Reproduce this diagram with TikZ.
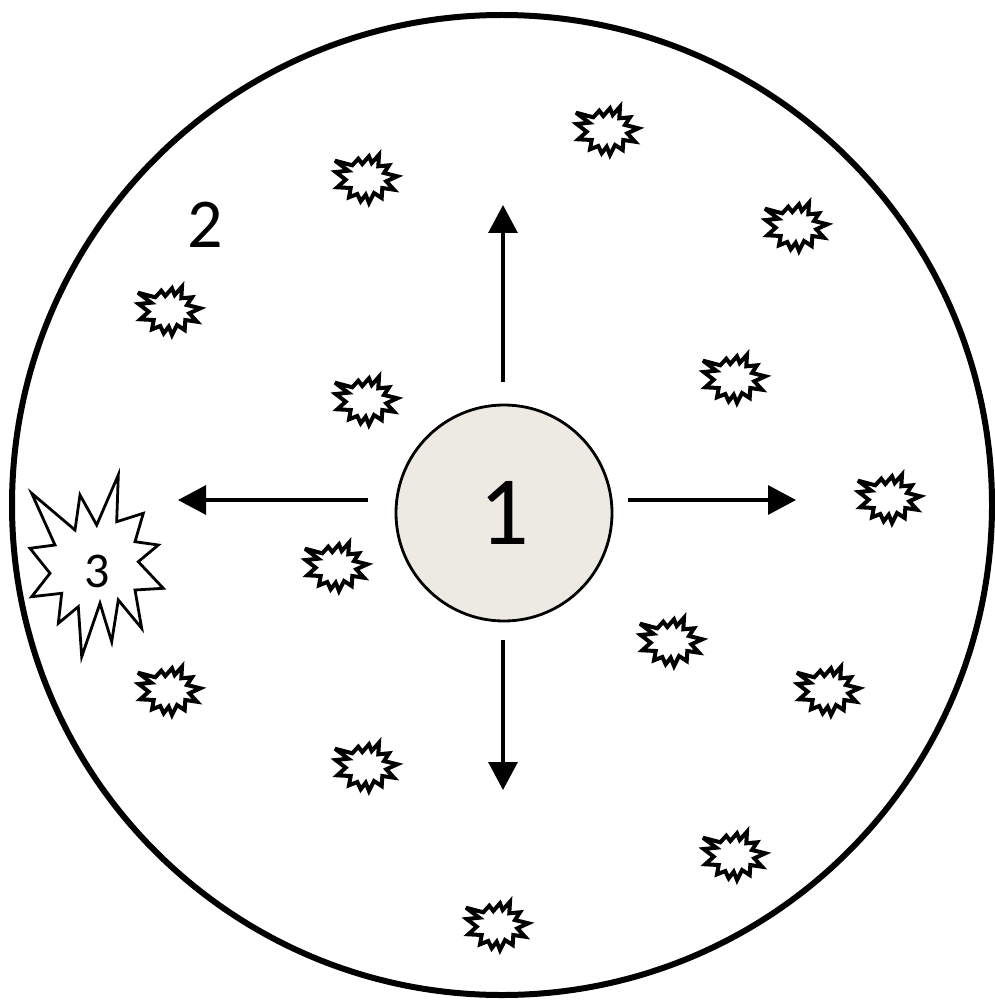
\documentclass[tikz,border=0pt]{standalone}
\usepackage{fontspec}
\setmainfont{Carlito}
\usetikzlibrary{arrows.meta}
\definecolor{corefill}{RGB}{236,234,226}
\tikzset{
  outerring/.style={draw=black, line width=6pt},
  core/.style={circle, draw=black, line width=2.8pt, fill=corefill, minimum size=216pt, inner sep=0pt, font=\fontsize{98}{98}\selectfont},
  ray/.style={line width=3.2pt, -{Triangle[length=28pt, width=29pt]}},
  burstline/.style={draw=black, fill=white, line width=4pt, line join=miter, miter limit=4},
  bigburst/.style={draw=black, fill=white, line width=2.8pt, line join=miter, miter limit=6},
  lbl/.style={inner sep=0pt},
  burst/.pic={
    \draw[burstline] (-30,-19.3) -- (-12.7,-14.7) -- (-6.7,-21.3) -- (-2.7,-16) -- (4,-23.7) -- (6.7,-17) -- (14,-25.3) -- (13.3,-13.7) -- (24,-14.7) -- (19,-7) -- (32.3,-3.7) -- (21.3,1.3) -- (29,9.7) -- (17.3,8) -- (16.7,18) -- (9,13) -- (4,23) -- (0.7,14.7) -- (-4.3,21.3) -- (-7.7,14) -- (-16,17.3) -- (-14.3,8) -- (-27.7,7.3) -- (-19.3,-0.3) -- (-29.3,-8) -- (-16.7,-9.3) -- cycle;
  }
}
\begin{document}
\begin{tikzpicture}[x=1pt, y=-1pt]
\useasboundingbox (0,0) rectangle (994,1000);
% outer region
\draw[outerring] (502,505) circle[radius=490];
% small bursts
\foreach \p in {(365,180),(606,132),(795,228),(168,312),(365,402),(733,380),(888,500),(335,568),(670,643),(168,692),(827,692),(365,768),(733,857),(496,927)}
  \pic at \p {burst};
% big burst 3
\draw[bigburst] (31.7,493.3) -- (75,530) -- (80,495) -- (96.7,525) -- (118.3,475) -- (116.7,521.7) -- (143.3,513.3) -- (135,541.7) -- (158.3,545) -- (138.3,561.7) -- (163.3,588.3) -- (135,590) -- (141.7,628.3) -- (118.3,600) -- (111.7,641.7) -- (100,603.3) -- (81.7,656.7) -- (78.3,606.7) -- (58.3,623.3) -- (61.7,593.3) -- (31.7,596.7) -- (50,573.3) -- (30,548.3) -- (55,545) -- cycle;
\node[lbl, font=\fontsize{50}{50}\selectfont] (three) at (97,571) {3};
% label 2
\node[lbl, font=\fontsize{70}{70}\selectfont] (two) at (205,225) {2};
% core
\node[core] (one) at (504,513) {1};
% ray endpoints
\coordinate (upS) at (503,382);
\coordinate (upE) at (503,205);
\coordinate (dnS) at (503,640);
\coordinate (dnE) at (503,790);
\coordinate (lfS) at (368,500);
\coordinate (lfE) at (178,500);
\coordinate (rtS) at (628,500);
\coordinate (rtE) at (796,500);
\draw[ray] (upS) -- (upE);
\draw[ray] (dnS) -- (dnE);
\draw[ray] (lfS) -- (lfE);
\draw[ray] (rtS) -- (rtE);
\end{tikzpicture}
\end{document}
